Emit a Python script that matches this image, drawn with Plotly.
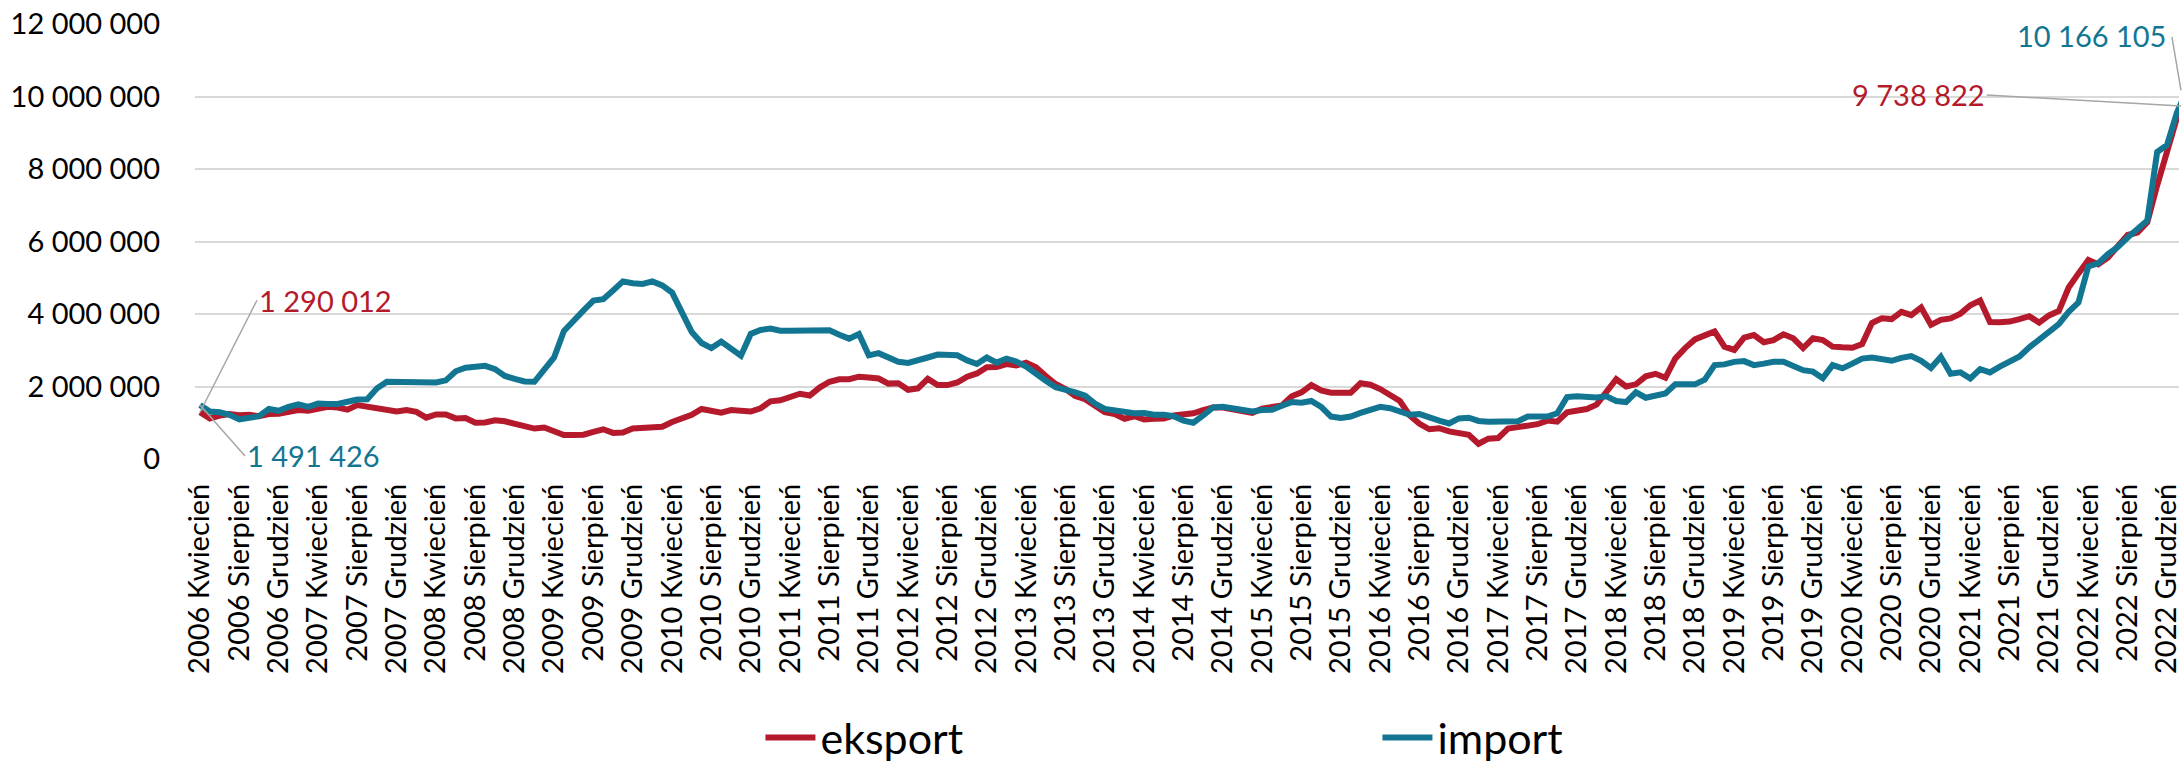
import plotly.graph_objects as go

# ---- data -------------------------------------------------------------
tick_labels = [
    "2006 Kwiecień", "2006 Sierpień", "2006 Grudzień",
    "2007 Kwiecień", "2007 Sierpień", "2007 Grudzień",
    "2008 Kwiecień", "2008 Sierpień", "2008 Grudzień",
    "2009 Kwiecień", "2009 Sierpień", "2009 Grudzień",
    "2010 Kwiecień", "2010 Sierpień", "2010 Grudzień",
    "2011 Kwiecień", "2011 Sierpień", "2011 Grudzień",
    "2012 Kwiecień", "2012 Sierpień", "2012 Grudzień",
    "2013 Kwiecień", "2013 Sierpień", "2013 Grudzień",
    "2014 Kwiecień", "2014 Sierpień", "2014 Grudzień",
    "2015 Kwiecień", "2015 Sierpień", "2015 Grudzień",
    "2016 Kwiecień", "2016 Sierpień", "2016 Grudzień",
    "2017 Kwiecień", "2017 Sierpień", "2017 Grudzień",
    "2018 Kwiecień", "2018 Sierpień", "2018 Grudzień",
    "2019 Kwiecień", "2019 Sierpień", "2019 Grudzień",
    "2020 Kwiecień", "2020 Sierpień", "2020 Grudzień",
    "2021 Kwiecień", "2021 Sierpień", "2021 Grudzień",
    "2022 Kwiecień", "2022 Sierpień", "2022 Grudzień",
]

eksport = [
    1290012, 1.12e6, 1.20e6, 1.24e6, 1.21e6, 1.22e6, 1.18e6, 1.24e6, 1.25e6, 1.29e6,
    1.35e6, 1.33e6, 1.40e6, 1.44e6, 1.42e6, 1.36e6, 1.49e6, 1.45e6, 1.42e6, 1.38e6,
    1.31e6, 1.35e6, 1.30e6, 1.14e6, 1.23e6, 1.23e6, 1.12e6, 1.13e6, 1.00e6, 1.01e6,
    1.07e6, 1.04e6, 0.97e6, 0.91e6, 0.84e6, 0.87e6, 0.75e6, 0.66e6, 0.66e6, 0.67e6,
    0.75e6, 0.82e6, 0.72e6, 0.73e6, 0.84e6, 0.87e6, 0.87e6, 0.89e6, 1.02e6, 1.13e6,
    1.22e6, 1.38e6, 1.31e6, 1.28e6, 1.35e6, 1.33e6, 1.31e6, 1.40e6, 1.59e6, 1.62e6,
    1.69e6, 1.80e6, 1.75e6, 1.97e6, 2.13e6, 2.20e6, 2.20e6, 2.27e6, 2.25e6, 2.22e6,
    2.08e6, 2.09e6, 1.91e6, 1.95e6, 2.21e6, 2.04e6, 2.04e6, 2.11e6, 2.27e6, 2.36e6,
    2.53e6, 2.54e6, 2.62e6, 2.58e6, 2.66e6, 2.53e6, 2.29e6, 2.07e6, 1.93e6, 1.74e6,
    1.65e6, 1.49e6, 1.29e6, 1.24e6, 1.11e6, 1.18e6, 1.09e6, 1.11e6, 1.12e6, 1.20e6,
    1.22e6, 1.26e6, 1.35e6, 1.42e6, 1.42e6, 1.38e6, 1.35e6, 1.27e6, 1.39e6, 1.43e6,
    1.48e6, 1.73e6, 1.84e6, 2.04e6, 1.89e6, 1.83e6, 1.83e6, 1.83e6, 2.09e6, 2.05e6,
    1.93e6, 1.74e6, 1.60e6, 1.20e6, 0.97e6, 0.82e6, 0.85e6, 0.76e6, 0.72e6, 0.67e6,
    0.42e6, 0.56e6, 0.58e6, 0.84e6, 0.88e6, 0.91e6, 0.96e6, 1.06e6, 1.03e6, 1.29e6,
    1.34e6, 1.38e6, 1.50e6, 1.88e6, 2.20e6, 2.00e6, 2.06e6, 2.28e6, 2.35e6, 2.24e6,
    2.77e6, 3.06e6, 3.30e6, 3.41e6, 3.52e6, 3.10e6, 3.01e6, 3.35e6, 3.42e6, 3.22e6,
    3.28e6, 3.44e6, 3.33e6, 3.06e6, 3.33e6, 3.28e6, 3.10e6, 3.08e6, 3.07e6, 3.17e6,
    3.75e6, 3.88e6, 3.86e6, 4.06e6, 3.97e6, 4.18e6, 3.70e6, 3.84e6, 3.88e6, 4.01e6,
    4.24e6, 4.37e6, 3.78e6, 3.77e6, 3.79e6, 3.86e6, 3.94e6, 3.76e6, 3.96e6, 4.08e6,
    4.73e6, 5.12e6, 5.49e6, 5.37e6, 5.56e6, 5.87e6, 6.18e6, 6.25e6, 6.53e6, 7.55e6,
    8.50e6, 9.40e6, 9738822,
]

import_values = [
    1491426, 1.31e6, 1.29e6, 1.22e6, 1.09e6, 1.13e6, 1.18e6, 1.38e6, 1.33e6, 1.44e6,
    1.51e6, 1.44e6, 1.53e6, 1.52e6, 1.52e6, 1.58e6, 1.64e6, 1.65e6, 1.95e6, 2.13e6,
    2.13e6, 2.12e6, 2.11e6, 2.11e6, 2.11e6, 2.17e6, 2.42e6, 2.52e6, 2.55e6, 2.57e6,
    2.48e6, 2.29e6, 2.21e6, 2.14e6, 2.13e6, 2.46e6, 2.80e6, 3.53e6, 3.84e6, 4.10e6,
    4.37e6, 4.41e6, 4.65e6, 4.90e6, 4.85e6, 4.83e6, 4.90e6, 4.79e6, 4.59e6, 4.00e6,
    3.50e6, 3.20e6, 3.06e6, 3.24e6, 3.03e6, 2.85e6, 3.45e6, 3.56e6, 3.60e6, 3.54e6,
    3.54e6, 3.54e6, 3.54e6, 3.52e6, 3.55e6, 3.43e6, 3.32e6, 3.45e6, 2.86e6, 2.92e6,
    2.78e6, 2.68e6, 2.65e6, 2.71e6, 2.80e6, 2.88e6, 2.89e6, 2.86e6, 2.72e6, 2.62e6,
    2.80e6, 2.66e6, 2.77e6, 2.69e6, 2.55e6, 2.33e6, 2.16e6, 1.98e6, 1.93e6, 1.84e6,
    1.75e6, 1.53e6, 1.38e6, 1.34e6, 1.28e6, 1.26e6, 1.27e6, 1.22e6, 1.22e6, 1.18e6,
    1.06e6, 1.00e6, 1.20e6, 1.42e6, 1.44e6, 1.40e6, 1.33e6, 1.31e6, 1.35e6, 1.36e6,
    1.47e6, 1.57e6, 1.55e6, 1.60e6, 1.44e6, 1.17e6, 1.13e6, 1.17e6, 1.27e6, 1.36e6,
    1.44e6, 1.40e6, 1.29e6, 1.22e6, 1.24e6, 1.13e6, 1.06e6, 0.98e6, 1.12e6, 1.14e6,
    1.05e6, 1.03e6, 1.04e6, 1.06e6, 1.04e6, 1.17e6, 1.16e6, 1.17e6, 1.26e6, 1.71e6,
    1.73e6, 1.70e6, 1.70e6, 1.73e6, 1.60e6, 1.57e6, 1.84e6, 1.69e6, 1.73e6, 1.81e6,
    2.06e6, 2.04e6, 2.06e6, 2.19e6, 2.59e6, 2.61e6, 2.68e6, 2.70e6, 2.59e6, 2.63e6,
    2.68e6, 2.68e6, 2.57e6, 2.45e6, 2.41e6, 2.23e6, 2.59e6, 2.50e6, 2.63e6, 2.77e6,
    2.80e6, 2.74e6, 2.71e6, 2.79e6, 2.84e6, 2.71e6, 2.51e6, 2.82e6, 2.35e6, 2.39e6,
    2.22e6, 2.48e6, 2.39e6, 2.55e6, 2.71e6, 2.83e6, 3.08e6, 3.30e6, 3.51e6, 3.72e6,
    4.06e6, 4.32e6, 5.31e6, 5.40e6, 5.65e6, 5.85e6, 6.11e6, 6.33e6, 6.58e6, 8.47e6,
    8.66e6, 9.55e6, 10166105,
]

# ---- style ------------------------------------------------------------
RED = "#B41A2C"
TEAL = "#127693"
LEADER = "#A6A6A6"
FONT = "Lato, Carlito, Calibri, sans-serif"

x = list(range(len(eksport)))
tickvals = list(range(0, 4 * len(tick_labels), 4))
X0, X1 = -0.508, 201.22


def fmt(v):
    return f"{int(round(v)):,}".replace(",", " ")


def paper_x(i):
    return (i - X0) / (X1 - X0)


fig = go.Figure()
fig.add_trace(go.Scatter(x=x, y=eksport, name="eksport", mode="lines",
                         line=dict(color=RED, width=6), hoverinfo="skip"))
fig.add_trace(go.Scatter(x=x, y=import_values, name="import", mode="lines",
                         line=dict(color=TEAL, width=6), hoverinfo="skip"))

ann_font = dict(family=FONT, size=29)
annotations = [
    # first values
    dict(x=x[0], y=eksport[0], xref="x", yref="y", text=fmt(eksport[0]),
         font=dict(ann_font, color=RED), showarrow=True, arrowhead=0,
         arrowwidth=1.5, arrowcolor=LEADER, ax=57, ay=-112, xanchor="left"),
    dict(x=x[0], y=import_values[0], xref="x", yref="y", text=fmt(import_values[0]),
         font=dict(ann_font, color=TEAL), showarrow=True, arrowhead=0,
         arrowwidth=1.5, arrowcolor=LEADER, ax=45, ay=51, xanchor="left"),
    # last values (anchor lies just beyond the visible right edge)
    dict(x=paper_x(x[-1]), y=eksport[-1], xref="paper", yref="y", text=fmt(eksport[-1]),
         font=dict(ann_font, color=RED), showarrow=True, arrowhead=0,
         arrowwidth=1.5, arrowcolor=LEADER, ax=-200, ay=-11, xanchor="right"),
    # import: label text and its leader line drawn separately
    dict(x=paper_x(x[-1]), y=import_values[-1], xref="paper", yref="y",
         text=fmt(import_values[-1]), font=dict(ann_font, color=TEAL),
         showarrow=False, xanchor="right", yanchor="middle", xshift=-19, yshift=55),
    dict(x=paper_x(x[-1]), y=import_values[-1], xref="paper", yref="y", text="",
         showarrow=True, arrowhead=0, arrowwidth=1.5, arrowcolor=LEADER,
         ax=-15, ay=-55),
]

fig.update_layout(
    width=2182, height=772,
    margin=dict(l=195, r=0, t=24, b=296),
    paper_bgcolor="white", plot_bgcolor="white",
    separators=", ",
    font=dict(family=FONT, size=29, color="black"),
    showlegend=True,
    legend=dict(orientation="h", x=0.285, xanchor="left", y=-0.642, yanchor="middle",
                font=dict(family=FONT, size=43, color="black"),
                itemwidth=50, entrywidth=552, entrywidthmode="pixels",
                bgcolor="rgba(0,0,0,0)", traceorder="normal"),
    annotations=annotations,
)

fig.update_xaxes(range=[X0, X1], tickmode="array", tickvals=tickvals, ticktext=tick_labels,
                 tickangle=-90, showgrid=False, zeroline=False, showline=False, ticks="",
                 tickfont=dict(family=FONT, size=29, color="black"), ticklabelstandoff=18,
                 ticklabeloverflow="allow")
fig.update_yaxes(range=[0, 12e6], dtick=2e6, tickformat=",.0f", showgrid=True,
                 gridcolor="#D9D9D9", gridwidth=1.5, zeroline=False, showline=False,
                 ticks="", tickfont=dict(family=FONT, size=29, color="black"),
                 ticklabelstandoff=34)

fig.write_html(
    "out.html",
    config={"displayModeBar": False},
    post_script="document.body.style.margin='0';document.body.style.overflow='hidden';",
)
